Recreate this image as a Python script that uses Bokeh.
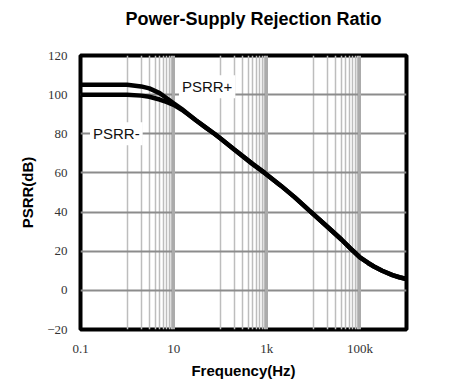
from bokeh.plotting import figure
from bokeh.models import FixedTicker, Label, Grid, Title
from bokeh.embed import file_html
from bokeh.resources import INLINE

# Data
freq_hz = [0.1, 0.5, 1, 2, 3, 5, 7, 10, 15, 20, 30, 50, 75, 100, 200, 500, 900,
           2000, 4000, 8000, 20000, 40000, 60000, 80000, 100000, 150000, 200000,
           300000, 500000, 700000, 1000000]
psrr_plus = [105, 105, 105, 104.2, 103.2, 100.8, 98.3, 95.6, 92.6, 90.2, 86.9, 83.0, 80.0,
             77.7, 72.0, 64.5, 60.0, 53.5, 47.5, 41.0, 32.5, 26.0, 21.8, 19.0, 16.8, 14.0,
             12.2, 10.0, 7.8, 6.7, 5.8]
psrr_minus = [100, 100, 100, 99.5, 98.9, 97.5, 96.3, 94.8, 92.3, 90.1, 86.9, 83.0, 80.0,
              77.7, 72.0, 64.5, 60.0, 53.5, 47.5, 41.0, 32.5, 26.0, 21.8, 19.0, 16.8, 14.0,
              12.2, 10.0, 7.8, 6.7, 5.8]

x_ticks = [0.1, 10, 1000, 100000]
x_tick_labels = ["0.1", "10", "1k", "100k"]
y_ticks = [-20, 0, 20, 40, 60, 80, 100, 120]
y_grid = [0, 20, 40, 60, 80, 100]
x_minor_grid = [1, 2, 3, 4, 5, 6, 7, 8, 9,
                100, 200, 300, 400, 500, 600, 700, 800, 900,
                10000, 20000, 30000, 40000, 50000, 60000, 70000, 80000, 90000]
x_major_grid = [10, 1000, 100000]

p = figure(width=446, height=384, x_axis_type="log", x_range=(0.1, 1e6), y_range=(-20, 120),
           output_backend="svg", toolbar_location=None,
           min_border_left=80, min_border_right=40, min_border_top=55, min_border_bottom=55)

p.title.text = "Power-Supply Rejection Ratio"
p.title.align = "left"
p.title.offset = 45
p.title.text_font = "Liberation Sans"
p.title.text_font_size = "18px"
p.title.text_font_style = "bold"
p.title.text_color = "black"
p.title.standoff = 0

# empty spacer between title and frame
spacer = Title(text=" ", text_font_size="10px", standoff=14)
p.add_layout(spacer, "above")

p.outline_line_color = "black"
p.outline_line_width = 4
p.outline_line_alpha = 1

# grids
p.xgrid.ticker = FixedTicker(ticks=x_minor_grid)
p.xgrid.grid_line_color = "#bdbdbd"
p.xgrid.grid_line_width = 1.5
major_grid = Grid(dimension=0, ticker=FixedTicker(ticks=x_major_grid),
                  grid_line_color="#ababab", grid_line_width=3)
p.add_layout(major_grid)
p.ygrid.ticker = FixedTicker(ticks=y_grid)
p.ygrid.grid_line_color = "#8c8c8c"
p.ygrid.grid_line_width = 2

# axes
for ax in (p.xaxis, p.yaxis):
    ax.axis_line_color = None
    ax.major_tick_line_color = None
    ax.minor_tick_line_color = None
    ax.major_tick_out = 0
    ax.minor_tick_out = 0
    ax.major_label_text_font = "Liberation Serif"
    ax.major_label_text_font_size = "13px"
    ax.major_label_text_color = "#333333"
    ax.axis_label_text_font = "Liberation Sans"
    ax.axis_label_text_font_size = "15px"
    ax.axis_label_text_font_style = "bold"
    ax.axis_label_text_color = "black"

p.xaxis.ticker = FixedTicker(ticks=x_ticks, minor_ticks=[])
p.xaxis.major_label_overrides = {t: s for t, s in zip(x_ticks, x_tick_labels)}
p.xaxis.major_label_standoff = 11
p.xaxis.axis_label_standoff = 3
p.xaxis.axis_label = "Frequency(Hz)"

p.yaxis.ticker = FixedTicker(ticks=y_ticks, minor_ticks=[])
p.yaxis.major_label_standoff = 13
p.yaxis.axis_label_standoff = 8
p.yaxis.axis_label = "PSRR(dB)"

p.line(freq_hz, psrr_minus, line_color="black", line_width=4.5)
p.line(freq_hz, psrr_plus, line_color="black", line_width=4.5)

lab_plus = Label(x=13, y=104, text="PSRR+", text_font="Liberation Sans", text_font_size="15px",
                 text_baseline="middle", text_color="#111111",
                 background_fill_color="white", padding=3)
lab_minus = Label(x=0.16, y=80, text="PSRR-", text_font="Liberation Sans", text_font_size="15px",
                  text_baseline="middle", text_color="#111111",
                  background_fill_color="white", padding=3)
p.add_layout(lab_plus)
p.add_layout(lab_minus)

open("out.html", "w").write(file_html(p, INLINE))
